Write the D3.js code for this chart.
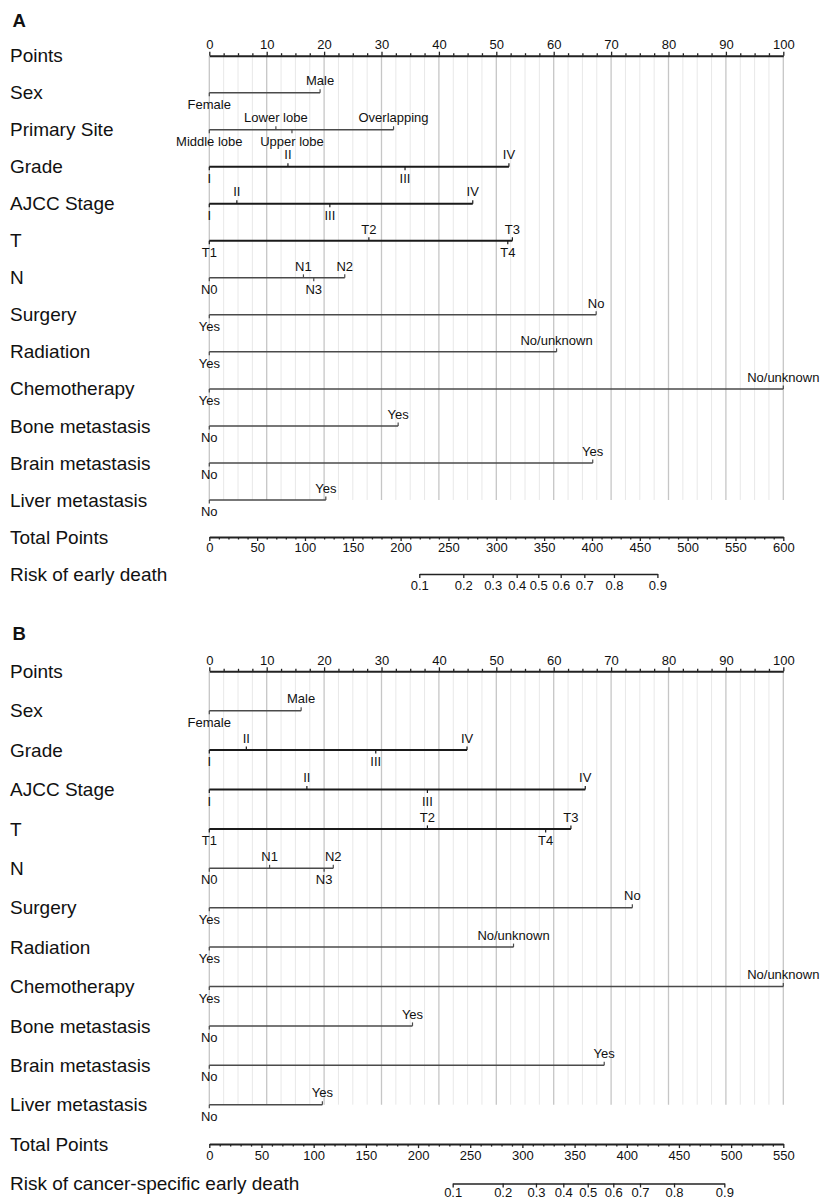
<!DOCTYPE html>
<html>
<head>
<meta charset="utf-8">
<script src="https://cdn.jsdelivr.net/npm/d3@7/dist/d3.min.js"></script>
<style>
  html, body { margin: 0; padding: 0; background: #fff; }
  svg { display: block; font-family: "Liberation Sans", Arial, Helvetica, sans-serif; }
</style>
</head>
<body>
<svg id="chart" width="824" height="1201"></svg>
<script>
// ---------------- DATA ----------------
const pointsTicks = [0, 10, 20, 30, 40, 50, 60, 70, 80, 90, 100];
const totalTicksA = [0, 50, 100, 150, 200, 250, 300, 350, 400, 450, 500, 550, 600];
const totalTicksB = [0, 50, 100, 150, 200, 250, 300, 350, 400, 450, 500, 550];
const riskLevels = [0.1, 0.2, 0.3, 0.4, 0.5, 0.6, 0.7, 0.8, 0.9];
// total points at which each risk level is reached
const riskTotalA = [219.5, 265.5, 296.2, 321.3, 343.9, 367.3, 392.0, 423.0, 468.4];
const riskTotalB = [233.2, 281.1, 313.0, 339.2, 362.6, 387.1, 412.7, 445.3, 493.5];

const sexLevels = ["Female", "Male"];
const siteLevels = ["Middle lobe", "Lower lobe", "Upper lobe", "Overlapping"];
const gradeLevels = ["I", "II", "III", "IV"];
const stageLevels = ["I", "II", "III", "IV"];
const tLevels = ["T1", "T2", "T3", "T4"];
const nLevels = ["N0", "N1", "N2", "N3"];
const surgeryLevels = ["Yes", "No"];
const radiationLevels = ["Yes", "No/unknown"];
const chemoLevels = ["Yes", "No/unknown"];
const boneLevels = ["No", "Yes"];
const brainLevels = ["No", "Yes"];
const liverLevels = ["No", "Yes"];

// Panel A points
const sexPointsA = [0, 19.3];
const sitePointsA = [0, 11.6, 14.4, 32.1];
const gradePointsA = [0, 13.7, 34.1, 52.2];
const stagePointsA = [0, 4.8, 21.0, 45.9];
const tPointsA = [0, 27.8, 52.8, 52.0];
const nPointsA = [0, 16.4, 23.6, 18.2];
const surgeryPointsA = [0, 67.4];
const radiationPointsA = [0, 60.5];
const chemoPointsA = [0, 100];
const bonePointsA = [0, 32.9];
const brainPointsA = [0, 66.8];
const liverPointsA = [0, 20.3];

// Panel B points
const sexPointsB = [0, 16.0];
const gradePointsB = [0, 6.45, 29.0, 44.9];
const stagePointsB = [0, 17.0, 38.0, 65.5];
const tPointsB = [0, 38.0, 63.0, 58.6];
const nPointsB = [0, 10.5, 21.6, 20.0];
const surgeryPointsB = [0, 73.7];
const radiationPointsB = [0, 53.0];
const chemoPointsB = [0, 100];
const bonePointsB = [0, 35.4];
const brainPointsB = [0, 68.8];
const liverPointsB = [0, 19.7];

// ---------------- PANELS ----------------
const panelA = {
  tag: "A",
  riskLabel: "Risk of early death",
  totalTicks: totalTicksA,
  riskTotal: riskTotalA,
  vars: [
    ["Sex", sexLevels, sexPointsA],
    ["Primary Site", siteLevels, sitePointsA],
    ["Grade", gradeLevels, gradePointsA],
    ["AJCC Stage", stageLevels, stagePointsA],
    ["T", tLevels, tPointsA],
    ["N", nLevels, nPointsA],
    ["Surgery", surgeryLevels, surgeryPointsA],
    ["Radiation", radiationLevels, radiationPointsA],
    ["Chemotherapy", chemoLevels, chemoPointsA],
    ["Bone metastasis", boneLevels, bonePointsA],
    ["Brain metastasis", brainLevels, brainPointsA],
    ["Liver metastasis", liverLevels, liverPointsA]
  ],
  layout: { tagY: 26.7, top: 55.7, bottom: 574, riskPad: 2.3 }
};
const panelB = {
  tag: "B",
  riskLabel: "Risk of cancer-specific early death",
  totalTicks: totalTicksB,
  riskTotal: riskTotalB,
  vars: [
    ["Sex", sexLevels, sexPointsB],
    ["Grade", gradeLevels, gradePointsB],
    ["AJCC Stage", stageLevels, stagePointsB],
    ["T", tLevels, tPointsB],
    ["N", nLevels, nPointsB],
    ["Surgery", surgeryLevels, surgeryPointsB],
    ["Radiation", radiationLevels, radiationPointsB],
    ["Chemotherapy", chemoLevels, chemoPointsB],
    ["Bone metastasis", boneLevels, bonePointsB],
    ["Brain metastasis", brainLevels, brainPointsB],
    ["Liver metastasis", liverLevels, liverPointsB]
  ],
  layout: { tagY: 640, top: 671.3, bottom: 1183.5, riskPad: 0.3 }
};

const svg = d3.select("#chart");
svg.append("rect").attr("width", 824).attr("height", 1201).attr("fill", "#fff");

const X0 = 209.3, X1 = 783.3;
const thickVars = new Set(["Grade", "AJCC Stage", "T"]);
const textColor = "#111";

function drawPanel(p) {
  const g = svg.append("g");
  const rows = ["Points"].concat(p.vars.map(v => v[0]), ["Total Points", p.riskLabel]);
  const y = d3.scalePoint().domain(rows).range([p.layout.top, p.layout.bottom]);
  const xPts = d3.scaleLinear().domain([0, 100]).range([X0, X1]);
  const maxTotal = p.totalTicks[p.totalTicks.length - 1];
  const xTot = d3.scaleLinear().domain([0, maxTotal]).range([X0, X1]);

  // panel tag
  g.append("text").attr("x", 12.5).attr("y", p.layout.tagY)
    .attr("font-size", 18.5).attr("font-weight", "bold").attr("fill", textColor).text(p.tag);

  // row labels
  g.selectAll("text.rowlab").data(rows).join("text")
    .attr("class", "rowlab")
    .attr("x", 10).attr("y", d => y(d) + 6.6)
    .attr("font-size", 19).attr("fill", textColor)
    .text(d => d);

  // gridlines
  const gridTop = y("Points");
  const gridBottom = y(p.vars[p.vars.length - 1][0]);
  const minorGrid = d3.range(0, 100.01, 2.5);
  g.selectAll("line.grid").data(minorGrid).join("line")
    .attr("class", "grid")
    .attr("x1", d => xPts(d)).attr("x2", d => xPts(d))
    .attr("y1", gridTop).attr("y2", gridBottom)
    .attr("stroke", d => (Math.abs(d % 10) < 1e-6) ? "#c6c6c6" : "#e8e8e8")
    .attr("stroke-width", d => (Math.abs(d % 10) < 1e-6) ? 1.3 : 1);

  // Points axis (top)
  const pa = g.append("g").attr("transform", `translate(0,${y("Points")})`);
  pa.call(d3.axisTop(xPts).tickValues(d3.range(0, 100.01, 2.5).filter(d => d % 10 !== 0))
      .tickSize(2.5).tickSizeOuter(0).tickFormat(""));
  pa.select(".domain").remove();
  const pa2 = g.append("g").attr("transform", `translate(0,${y("Points")})`);
  pa2.call(d3.axisTop(xPts).tickValues(pointsTicks).tickSize(4).tickSizeOuter(0).tickPadding(2.4));
  [pa, pa2].forEach(a => {
    a.selectAll("line").attr("stroke", "#222").attr("stroke-width", 1.3);
    a.selectAll("text").attr("font-size", 13).attr("fill", textColor).attr("font-family", null);
  });
  pa2.select(".domain").attr("stroke", "#222").attr("stroke-width", 2);

  // variables
  p.vars.forEach(([name, levels, pts]) => {
    const yy = y(name);
    const thick = thickVars.has(name);
    const color = thick ? "#1a1a1a" : "#4a4a4a";
    const sw = thick ? 2 : 1.5;
    g.append("line")
      .attr("x1", xPts(d3.min(pts))).attr("x2", xPts(d3.max(pts)))
      .attr("y1", yy).attr("y2", yy)
      .attr("stroke", color).attr("stroke-width", sw);
    // alternate label side by sorted value, starting below
    const order = d3.range(levels.length).sort((a, b) => pts[a] - pts[b]);
    const items = order.map((idx, k) => ({ label: levels[idx], v: pts[idx], up: k % 2 === 1 }));
    g.selectAll(null).data(items).join("line")
      .attr("x1", d => xPts(d.v)).attr("x2", d => xPts(d.v))
      .attr("y1", yy).attr("y2", d => d.up ? yy - 3.5 : yy + 3.5)
      .attr("stroke", color).attr("stroke-width", 1.2);
    g.selectAll(null).data(items).join("text")
      .attr("x", d => xPts(d.v))
      .attr("y", d => d.up ? yy - 7.3 : yy + 16)
      .attr("text-anchor", "middle")
      .attr("font-size", 13).attr("fill", textColor)
      .text(d => d.label);
  });

  // Total points axis (bottom)
  const ty = y("Total Points");
  const ta = g.append("g").attr("transform", `translate(0,${ty})`);
  ta.call(d3.axisBottom(xTot).tickValues(d3.range(0, maxTotal + 0.01, 10).filter(d => d % 50 !== 0))
      .tickSize(2.5).tickSizeOuter(0).tickFormat(""));
  ta.select(".domain").remove();
  const ta2 = g.append("g").attr("transform", `translate(0,${ty})`);
  ta2.call(d3.axisBottom(xTot).tickValues(p.totalTicks).tickSize(4).tickSizeOuter(0).tickPadding(2.3));
  [ta, ta2].forEach(a => {
    a.selectAll("line").attr("stroke", "#222").attr("stroke-width", 1.3);
    a.selectAll("text").attr("font-size", 13).attr("fill", textColor).attr("font-family", null);
  });
  ta2.select(".domain").attr("stroke", "#222").attr("stroke-width", 2);

  // Risk axis: probability -> total points -> pixels
  const xRisk = d3.scaleLinear().domain(riskLevels).range(p.riskTotal.map(t => xTot(t)));
  const ry = y(p.riskLabel);
  const ra = g.append("g").attr("transform", `translate(0,${ry})`);
  ra.call(d3.axisBottom(xRisk).tickValues(riskLevels).tickSize(4).tickSizeOuter(0)
      .tickPadding(p.layout.riskPad).tickFormat(d3.format(".1f")));
  ra.selectAll("line").attr("stroke", "#222").attr("stroke-width", 1.3);
  ra.select(".domain").attr("stroke", "#222").attr("stroke-width", 1.6);
  ra.selectAll("text").attr("font-size", 13).attr("fill", textColor).attr("font-family", null);
}

drawPanel(panelA);
drawPanel(panelB);
</script>
</body>
</html>
